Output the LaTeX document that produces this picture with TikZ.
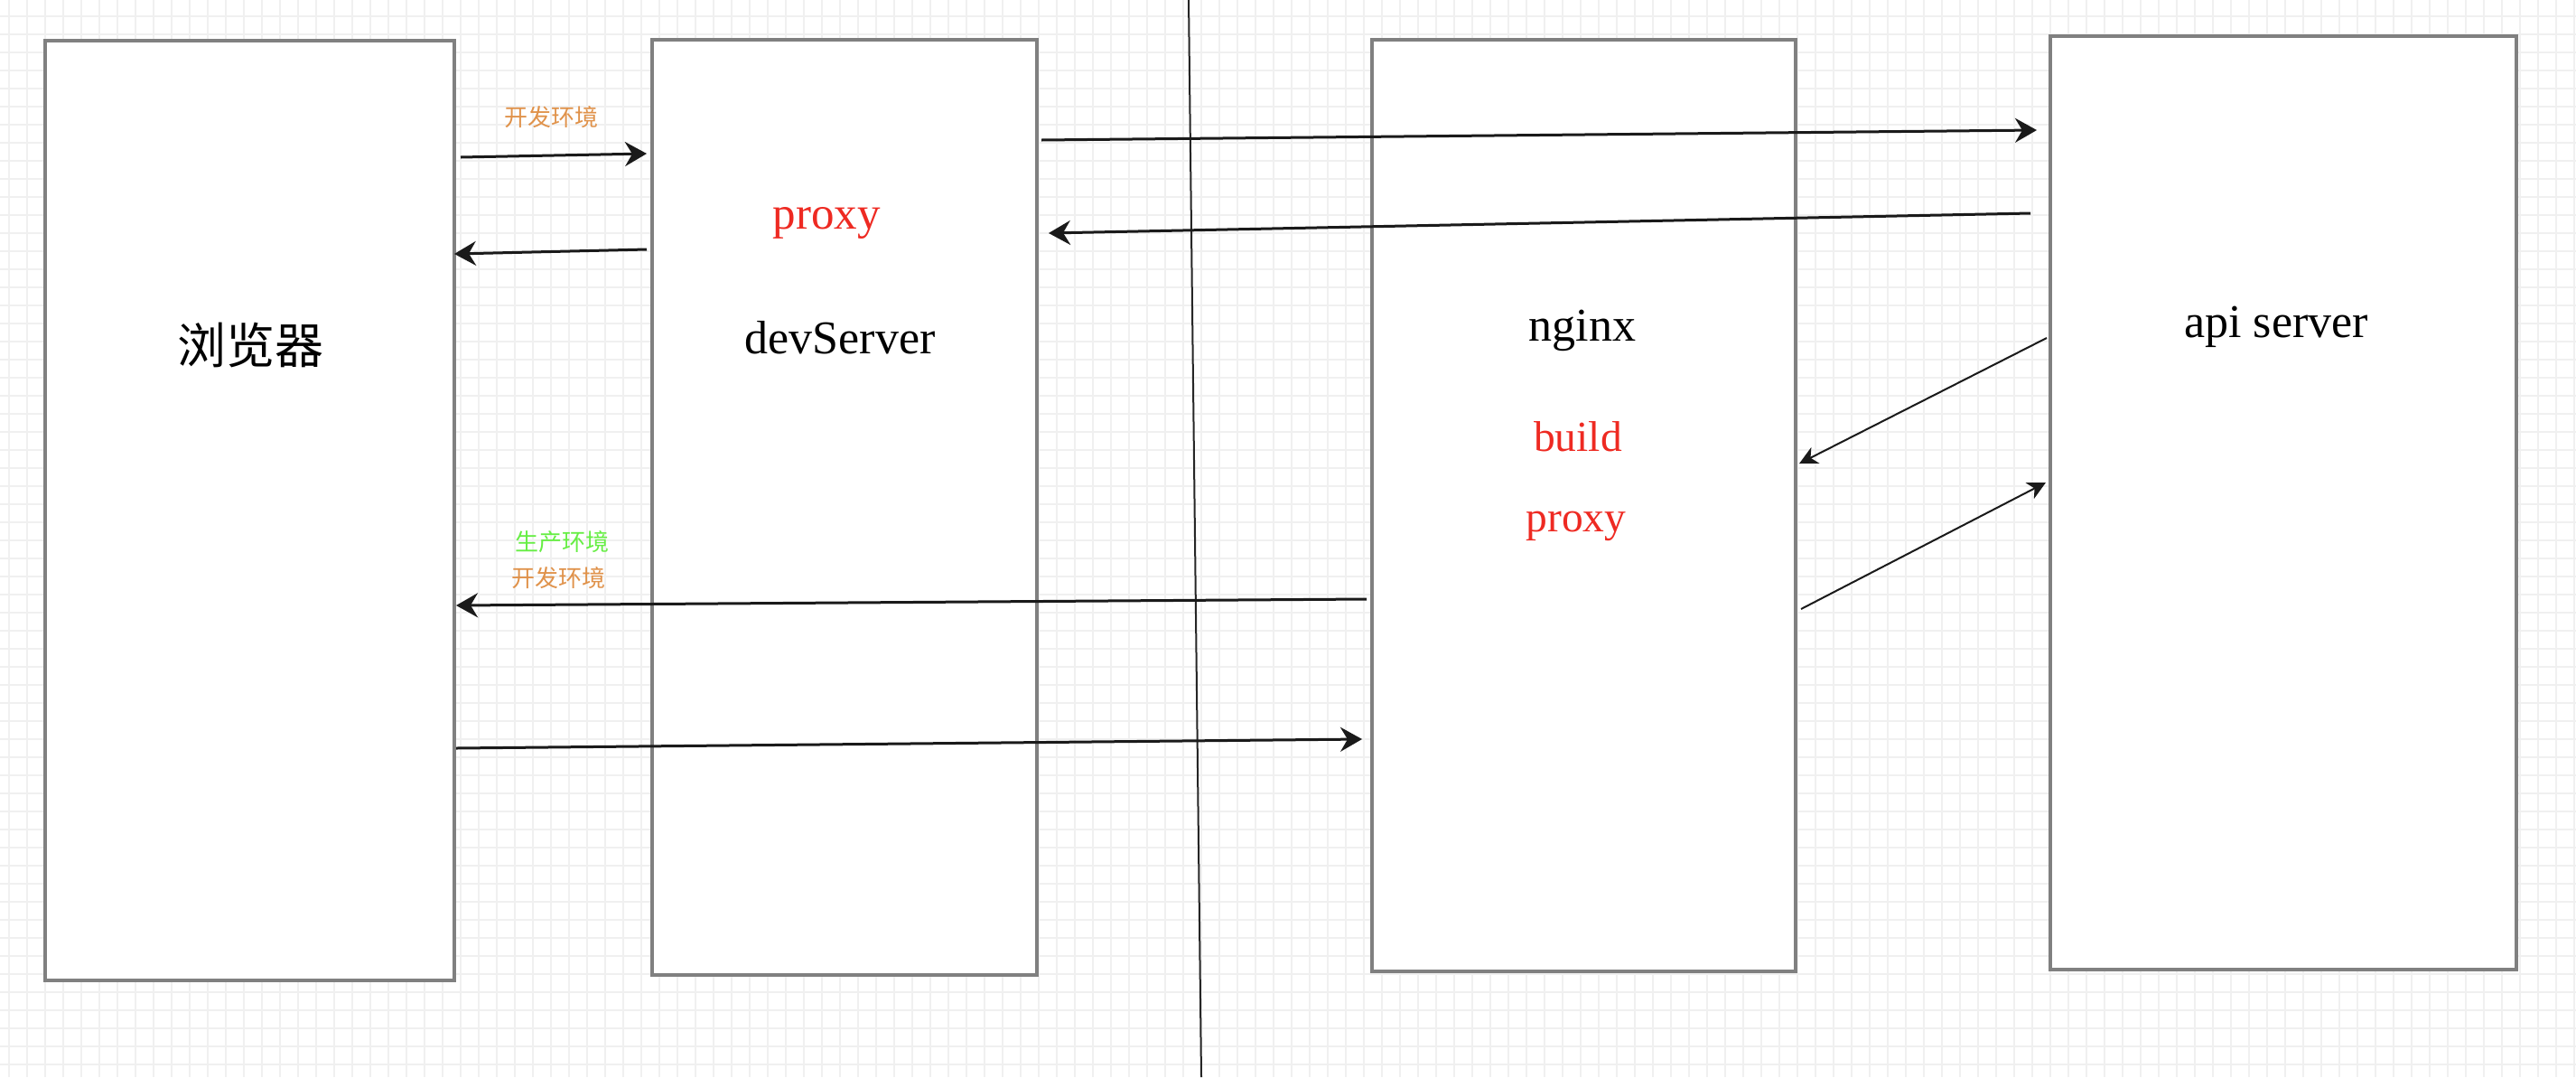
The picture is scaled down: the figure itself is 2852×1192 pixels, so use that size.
\documentclass[tikz,border=0pt]{standalone}
\usepackage{fontspec}
\setmainfont{Liberation Serif}
\newfontfamily\cjk{Noto Sans CJK SC}
\usetikzlibrary{arrows.meta,calc}
\definecolor{boxgray}{HTML}{808080}
\definecolor{gridc}{HTML}{F0F0F0}
\definecolor{devorange}{HTML}{E0924A}
\definecolor{prodgreen}{HTML}{66EE44}
\definecolor{proxyred}{HTML}{EE2A22}
\definecolor{arrowc}{HTML}{1A1A1A}
\begin{document}
\begin{tikzpicture}[x=1pt,y=-1pt,
  box/.style={draw=boxgray,line width=3.5pt,fill=white,rectangle,inner sep=0pt,outer sep=0pt},
  mainlbl/.style={inner sep=0pt,anchor=base,font=\fontsize{52}{60}\selectfont},
  redlbl/.style={inner sep=0pt,anchor=base,text=proxyred,font=\fontsize{47.5}{55}\selectfont},
  envlbl/.style={inner sep=0pt,font=\cjk\fontsize{26}{30}\selectfont},
  arr/.style={draw=arrowc,line width=3pt,-{Stealth[length=24pt,width=27pt,inset=8pt]}},
  darr/.style={draw=arrowc,line width=2pt,-{Stealth[length=20pt,width=20pt,inset=6pt]}},
  gridline/.style={draw=gridc,line width=2pt},
  divider/.style={draw=black!85,line width=2pt}]
\useasboundingbox (0,0) rectangle (2852,1192);
\fill[white] (0,0) rectangle (2852,1192);
\foreach \x in {10,30,...,2850} \draw[gridline] (\x,0) -- (\x,1192);
\foreach \y in {18,38,...,1178} \draw[gridline] (0,\y) -- (2852,\y);
% boxes
\node[box,minimum width=453pt,minimum height=1040pt] (browser) at (276.5,565) {};
\node[box,minimum width=426pt,minimum height=1035pt] (dev) at (935,561.5) {};
\node[box,minimum width=469pt,minimum height=1031pt] (nginx) at (1753.5,559.5) {};
\node[box,minimum width=516pt,minimum height=1033pt] (api) at (2528,556.5) {};
% divider
\coordinate (divtop) at (1316,0);
\coordinate (divbot) at (1330,1192);
\draw[divider] (divtop) -- (divbot);
% labels
\node[inner sep=0pt,font=\cjk\fontsize{54}{62}\selectfont] (tbrowser) at (277,382) {浏览器};
\node[mainlbl] (tdev) at (930,391) {devServer};
\node[redlbl,font=\fontsize{51}{59}\selectfont] (tdevproxy) at (915,253) {proxy};
\node[mainlbl] (tnginx) at (1752,377) {nginx};
\node[redlbl] (tbuild) at (1747,499) {build};
\node[redlbl] (tngproxy) at (1745,588) {proxy};
\node[mainlbl] (tapi) at (2520,373) {api server};
\node[envlbl,text=devorange] (env1) at (610,130) {开发环境};
\node[envlbl,text=prodgreen] (env2) at (622,600) {生产环境};
\node[envlbl,text=devorange] (env3) at (618,640) {开发环境};
% connectors
\draw[arr] ($(browser.north east)+(7,129)$) -- ($(dev.north west)+(-6,126)$);
\draw[arr] ($(dev.north west)+(-6,232)$) -- ($(browser.north east)+(0,236)$);
\draw[arr] ($(dev.north east)+(5,111)$) -- ($(api.north west)+(-15,104)$);
\draw[arr] ($(api.north west)+(-22,196)$) -- ($(dev.north east)+(13,214)$);
\draw[darr] ($(api.north west)+(-4,334)$) -- ($(nginx.north east)+(4,469)$);
\draw[darr] ($(nginx.north east)+(6,630)$) -- ($(api.north west)+(-5,494)$);
\draw[arr] ($(nginx.north west)+(-6,619)$) -- ($(browser.north east)+(2,625)$);
\draw[arr] ($(browser.north east)+(2,783)$) -- ($(nginx.north west)+(-11,774)$);
\end{tikzpicture}
\end{document}
